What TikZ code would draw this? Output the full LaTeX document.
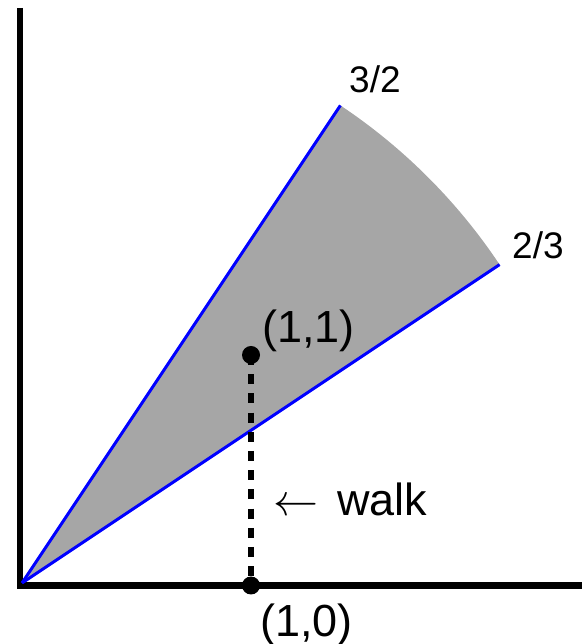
\documentclass[tikz,border=0pt]{standalone}
\usepackage{graphicx}
\usepackage{fontspec}
\setmainfont{Liberation Sans}
\usetikzlibrary{calc}
\begin{document}
\begin{tikzpicture}[x=1pt,y=1pt,
  axis/.style={line width=6.5pt,line join=miter,black},
  ray/.style={line width=3pt},
  walkline/.style={line width=6pt,dash pattern=on 10pt off 9.2pt},
  dot/.style={circle,fill=black,inner sep=0pt,minimum size=18pt},
  biglbl/.style={anchor=base west,inner sep=0pt,font=\fontsize{45}{50}\selectfont},
  smalllbl/.style={anchor=base west,inner sep=0pt,font=\fontsize{37}{42}\selectfont}]
\useasboundingbox (0,0) rectangle (582,644);
\definecolor{sector}{RGB}{166,166,166}
\definecolor{rayblue}{RGB}{0,0,255}
\coordinate (O) at (22,61);
\coordinate (A) at ($(O)+(56.31:574)$);
\coordinate (B) at ($(O)+(33.69:574)$);
% sector
\fill[sector] (O) -- (A) arc[start angle=56.31,end angle=33.69,radius=574] -- cycle;
% axes
\coordinate (Ytop) at (19.8,636);
\coordinate (C) at (19.8,58.5);
\coordinate (Xend) at (582,58.5);
\draw[axis] (Ytop) -- (C) -- (Xend);
% rays
\draw[ray,draw=rayblue] (O) -- (A);
\draw[ray,draw=rayblue] (O) -- (B);
% points
\node[dot] (p11) at (251,289) {};
\node[dot] (p10) at (251,58.5) {};
\draw[walkline] (p11.center) -- (p10.center);
% labels
\node[smalllbl] (l32) at (349,551) {3/2};
\node[smalllbl] (l23) at (512,385) {2/3};
\node[biglbl] (l11) at (262,301) {(1,1)};
\node[biglbl] (l10) at (260,8) {(1,0)};
\node[biglbl] (lwalk) at (273,128) {\scalebox{4.5}{\fontsize{10}{12}\selectfont$\leftarrow$}\hspace{19pt}walk};
\end{tikzpicture}
\end{document}
